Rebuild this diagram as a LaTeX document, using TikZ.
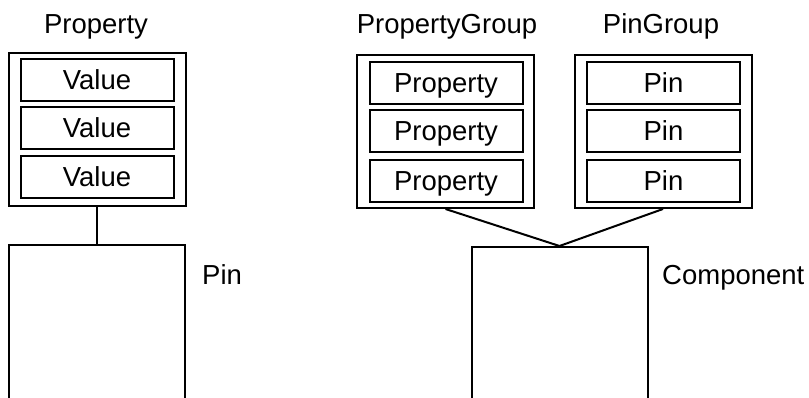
\documentclass[tikz,border=0pt]{standalone}
\usepackage{fontspec}
\setmainfont{Liberation Sans}
\begin{document}
\begin{tikzpicture}[x=1pt,y=-1pt,
    every node/.style={font=\fontsize{27.5}{32}\selectfont},
    outerbox/.style={draw, line width=2pt, minimum width=177pt, minimum height=153pt, inner sep=0pt},
    cell/.style={draw, line width=2pt, minimum width=153pt, minimum height=42pt, inner sep=0pt,
                 text height=19.7pt, text depth=0pt},
    bigbox/.style={draw, line width=2pt, minimum width=176pt, minimum height=175pt, inner sep=0pt},
    caption/.style={inner sep=0pt, anchor=base},
    sidecaption/.style={inner sep=0pt, anchor=base west},
    link/.style={line width=2pt}]
  \useasboundingbox (0,0) rectangle (809,397);
  \clip (0,0) rectangle (809,397);

  % Property with its values, attached to a pin
  \node[caption] (propT) at (96,33) {Property};
  \node[outerbox] (prop) at (97,129) {};
  \node[cell] (v1) at (97,80)  {Value};
  \node[cell] (v2) at (97,128) {Value};
  \node[cell] (v3) at (97,177) {Value};
  \node[bigbox] (pin) at (97,332.5) {};
  \node[sidecaption] (pinT) at (202,284) {Pin};
  \draw[link] (prop.south) -- (pin.north);

  % Property group
  \node[caption] (pgT) at (447,33) {PropertyGroup};
  \node[outerbox] (pg) at (445.5,131.5) {};
  \node[cell] (p1) at (446,82.5)  {Property};
  \node[cell] (p2) at (446,130.5) {Property};
  \node[cell] (p3) at (446,180.5) {Property};

  % Pin group
  \node[caption] (ngT) at (661,33) {PinGroup};
  \node[outerbox] (ng) at (663,131.5) {};
  \node[cell] (n1) at (663.5,82.5)  {Pin};
  \node[cell] (n2) at (663.5,130.5) {Pin};
  \node[cell] (n3) at (663.5,180.5) {Pin};

  % Component fed by both groups
  \node[bigbox] (comp) at (559.5,334.5) {};
  \node[sidecaption] (compT) at (662,284) {Component};
  \draw[link] (pg.south) -- (comp.north);
  \draw[link] (ng.south) -- (comp.north);
\end{tikzpicture}
\end{document}
